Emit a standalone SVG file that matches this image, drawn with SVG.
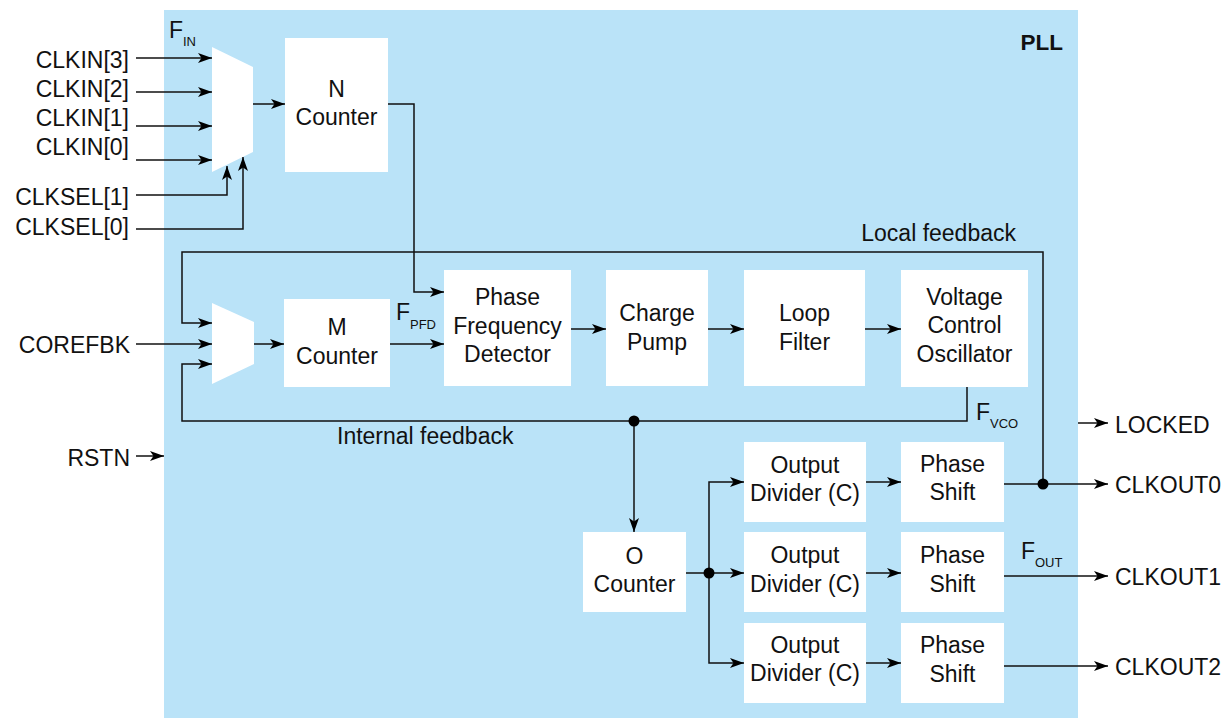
<svg xmlns="http://www.w3.org/2000/svg" width="1231" height="718" viewBox="0 0 1231 718">
<defs>
<marker id="ah" markerUnits="userSpaceOnUse" markerWidth="16" markerHeight="12" refX="14" refY="5" orient="auto">
<path d="M0,0 L14,5 L0,10 L3.5,5 z" fill="#000"/>
</marker>
<style>
text{font-family:"Liberation Sans",Arial,sans-serif;font-size:23px;fill:#111}
.c{text-anchor:middle}
.r{text-anchor:end}
.sub{font-size:13px}
.box{fill:#fff}
.ln{fill:none;stroke:#111;stroke-width:1.5}
.ar{marker-end:url(#ah)}
</style>
</defs>
<rect id="pll" x="164" y="10" width="914" height="708" fill="#bae3f8"/>
<text x="1063" y="50" class="r" style="font-weight:bold;font-size:22.5px">PLL</text>

<g id="mux-in"><polygon points="212,47 253,67 253,152 212,172" fill="#fff"/></g>
<g id="n-counter"><rect class="box" x="285" y="38" width="103" height="134"/><text class="c" x="336.5" y="97">N</text><text class="c" x="336.5" y="125">Counter</text></g>
<g id="mux-fb"><polygon points="212,303 254,322 254,364 212,384" fill="#fff"/></g>
<g id="m-counter"><rect class="box" x="284" y="299" width="106" height="88"/><text class="c" x="337" y="335">M</text><text class="c" x="337" y="364">Counter</text></g>
<g id="pfd"><rect class="box" x="444" y="270" width="127" height="116"/><text class="c" x="507.5" y="305">Phase</text><text class="c" x="507.5" y="334">Frequency</text><text class="c" x="507.5" y="362">Detector</text></g>
<g id="cp"><rect class="box" x="606" y="270" width="102" height="116"/><text class="c" x="657" y="321">Charge</text><text class="c" x="657" y="350">Pump</text></g>
<g id="lf"><rect class="box" x="744" y="270" width="121" height="116"/><text class="c" x="804.5" y="321">Loop</text><text class="c" x="804.5" y="350">Filter</text></g>
<g id="vco"><rect class="box" x="901" y="270" width="127" height="117"/><text class="c" x="964.5" y="305">Voltage</text><text class="c" x="964.5" y="333">Control</text><text class="c" x="964.5" y="362">Oscillator</text></g>
<g id="o-counter"><rect class="box" x="583" y="532" width="103" height="80"/><text class="c" x="634.5" y="564">O</text><text class="c" x="634.5" y="592">Counter</text></g>
<g id="div0"><rect class="box" x="744" y="442" width="122" height="80"/><text class="c" x="805" y="473">Output</text><text class="c" x="805" y="501">Divider (C)</text></g>
<g id="div1"><rect class="box" x="744" y="532" width="122" height="80"/><text class="c" x="805" y="563">Output</text><text class="c" x="805" y="592">Divider (C)</text></g>
<g id="div2"><rect class="box" x="744" y="623" width="122" height="80"/><text class="c" x="805" y="653">Output</text><text class="c" x="805" y="681">Divider (C)</text></g>
<g id="ps0"><rect class="box" x="901" y="442" width="103" height="80"/><text class="c" x="952.5" y="472">Phase</text><text class="c" x="952.5" y="500">Shift</text></g>
<g id="ps1"><rect class="box" x="901" y="532" width="103" height="80"/><text class="c" x="952.5" y="563">Phase</text><text class="c" x="952.5" y="592">Shift</text></g>
<g id="ps2"><rect class="box" x="901" y="623" width="103" height="80"/><text class="c" x="952.5" y="653">Phase</text><text class="c" x="952.5" y="682">Shift</text></g>

<g id="connectors">
<path class="ln ar" d="M136,58 H212"/>
<path class="ln ar" d="M136,92 H212"/>
<path class="ln ar" d="M136,126 H212"/>
<path class="ln ar" d="M136,160 H212"/>
<path class="ln ar" d="M136,195 H227 V166"/>
<path class="ln ar" d="M136,229 H243 V157"/>
<path class="ln ar" d="M253,104 H285"/>
<path class="ln ar" d="M388,104 H414 V292 H444"/>
<path class="ln ar" d="M1043,484 V252 H182 V323 H212"/>
<path class="ln ar" d="M136,344 H212"/>
<path class="ln ar" d="M967,387 V421 H182 V364 H212"/>
<path class="ln ar" d="M254,344 H284"/>
<path class="ln ar" d="M390,344 H444"/>
<path class="ln ar" d="M571,329 H606"/>
<path class="ln ar" d="M708,329 H744"/>
<path class="ln ar" d="M865,329 H901"/>
<path class="ln ar" d="M634,421 V532"/>
<path class="ln ar" d="M686,573 H744"/>
<path class="ln ar" d="M709,573 V482 H744"/>
<path class="ln ar" d="M709,573 V663 H744"/>
<path class="ln ar" d="M866,482 H901"/>
<path class="ln ar" d="M866,573 H901"/>
<path class="ln ar" d="M866,663 H901"/>
<path class="ln ar" d="M1004,484 H1108"/>
<path class="ln ar" d="M1004,576 H1108"/>
<path class="ln ar" d="M1004,666 H1108"/>
<path class="ln ar" d="M1078,423 H1108"/>
<path class="ln ar" d="M136,456 H164"/>
<circle cx="634" cy="421" r="5.5" fill="#000"/>
<circle cx="709" cy="573" r="5.5" fill="#000"/>
<circle cx="1043" cy="484" r="5.5" fill="#000"/>
</g>

<g id="labels">
<text class="r" x="129" y="68">CLKIN[3]</text>
<text class="r" x="129" y="97">CLKIN[2]</text>
<text class="r" x="129" y="126">CLKIN[1]</text>
<text class="r" x="129" y="155">CLKIN[0]</text>
<text class="r" x="129" y="205">CLKSEL[1]</text>
<text class="r" x="129" y="235">CLKSEL[0]</text>
<text class="r" x="130" y="353">COREFBK</text>
<text class="r" x="130" y="466">RSTN</text>
<text x="1115" y="433">LOCKED</text>
<text x="1115" y="493">CLKOUT0</text>
<text x="1115" y="585">CLKOUT1</text>
<text x="1115" y="675">CLKOUT2</text>
<text class="r" x="1016" y="241">Local feedback</text>
<text x="337" y="444">Internal feedback</text>
<text x="169" y="38">F</text><text class="sub" x="183" y="46">IN</text>
<text x="396" y="320">F</text><text class="sub" x="410" y="329">PFD</text>
<text x="976" y="420">F</text><text class="sub" x="990" y="428">VCO</text>
<text x="1021" y="559">F</text><text class="sub" x="1035" y="567">OUT</text>
</g>
</svg>
